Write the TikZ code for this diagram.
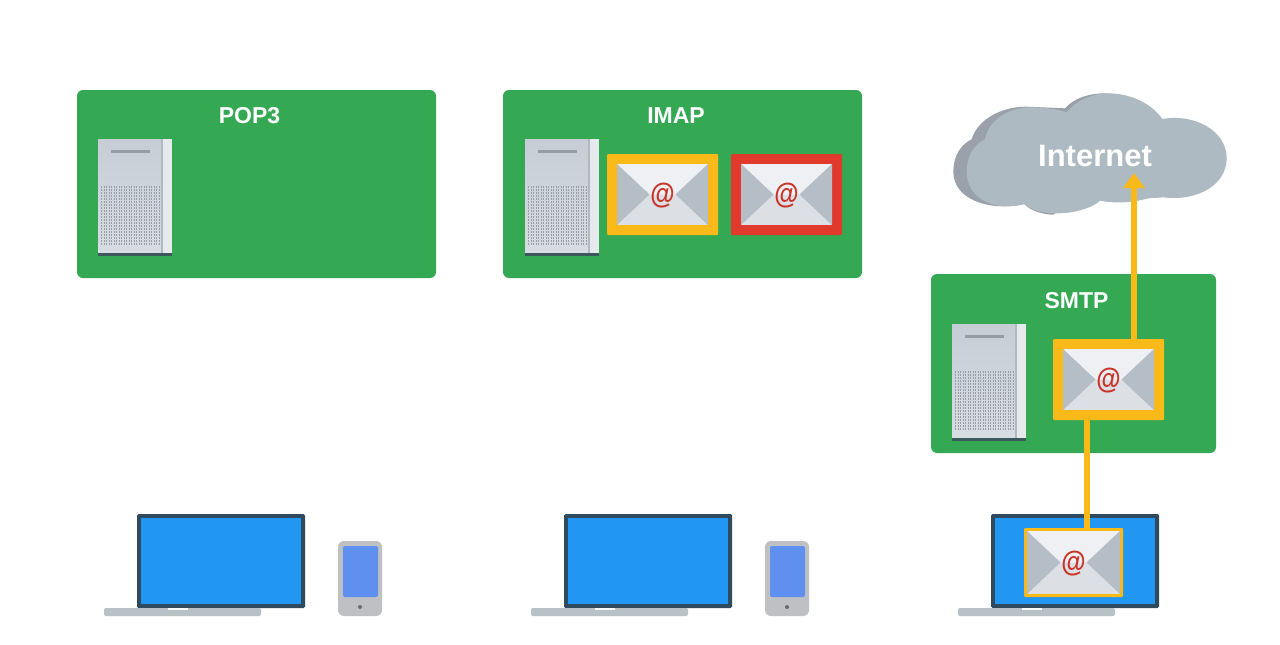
\documentclass[tikz,border=0pt]{standalone}
\usepackage{fontspec}
\setmainfont{Liberation Sans}
\usetikzlibrary{arrows.meta}
\definecolor{panelgreen}{HTML}{34A853}
\definecolor{mailyellow}{HTML}{F9B918}
\definecolor{mailred}{HTML}{E1392B}
\definecolor{screenblue}{HTML}{2196F3}
\definecolor{bezel}{HTML}{2F4A5C}
\definecolor{basegrey}{HTML}{B7C1C6}
\definecolor{phonegrey}{HTML}{BEC0C4}
\definecolor{phoneblue}{HTML}{5F90F0}
\definecolor{cloudfront}{HTML}{AEBAC2}
\definecolor{cloudback}{HTML}{9AA1AB}
\definecolor{envlight}{HTML}{EEF0F4}
\definecolor{envmid}{HTML}{DCE0E5}
\definecolor{envside}{HTML}{B5BEC6}
\definecolor{srvtop}{HTML}{C6CDD5}
\definecolor{srvbot}{HTML}{D8DDE3}
\definecolor{srvedge}{HTML}{B0B8C2}
\definecolor{srvside}{HTML}{E6EAED}
\definecolor{srvfoot}{HTML}{3C585C}
\definecolor{srvslot}{HTML}{969CA6}
\definecolor{srvdots}{HTML}{959DA6}
\tikzset{
  panel/.style={fill=panelgreen,rounded corners=6pt,inner sep=0pt,outer sep=0pt,anchor=north west},
  title/.style={text=white,font=\bfseries\fontsize{23}{23}\selectfont,inner sep=0pt},
  flatbox/.style={inner sep=0pt,outer sep=0pt,anchor=north west},
  wire/.style={draw=mailyellow,line width=6pt},
  at sign/.style={text=mailred!90!black,font=\bfseries\fontsize{25}{25}\selectfont,inner sep=0pt}
}
\newcommand{\srvbox}[3]{%
  \begin{scope}[shift={(#2,#3)}]
    \node[flatbox,minimum width=65pt,minimum height=114pt,top color=srvtop,bottom color=srvbot] (#1) at (0,0) {};
    \fill[srvedge] (63,0) rectangle (65,114);
    \fill[srvside] (65,0) rectangle (74,114);
    \fill[srvfoot] (0,114) rectangle (74,117);
    \fill[srvslot] (13,11) rectangle (52,14);
    \foreach \r in {0,...,19}
      \draw[srvdots,line width=1.1pt,dash pattern=on 1.2pt off 1.3pt]
        (3,{48+\r*3}) -- (62,{48+\r*3});
  \end{scope}}
\newcommand{\envbox}[6]{% name, x, y, w, h, colour; frame thickness in \envt
  \begin{scope}[shift={(#2,#3)}]
    \node[flatbox,fill=#6,rounded corners=1pt,minimum width=#4 pt,minimum height=#5 pt] (#1) at (0,0) {};
    \fill[envmid] (\envt,\envt) rectangle ({#4-\envt},{#5-\envt});
    \fill[envlight] (\envt,\envt) -- ({#4-\envt},\envt) -- ({#4/2+13},{#5/2}) -- ({#4/2-13},{#5/2}) -- cycle;
    \fill[envside] (\envt,\envt) -- ({#4/2-13},{#5/2}) -- (\envt,{#5-\envt}) -- cycle;
    \fill[envside] ({#4-\envt},\envt) -- ({#4/2+13},{#5/2}) -- ({#4-\envt},{#5-\envt}) -- cycle;
    \node[at sign] (#1at) at ({#4/2},{#5/2+1}) {\scalebox{1}[1.15]{@}};
  \end{scope}}
\newcommand{\lapbox}[2]{%
  \begin{scope}[shift={(#2,514)}]
    \node[flatbox,fill=bezel,rounded corners=1.5pt,minimum width=168pt,minimum height=94pt] (#1) at (0,0) {};
    \fill[screenblue] (4,4) rectangle (164,90);
    \fill[basegrey,rounded corners=2pt] (-33,94) rectangle (124,102);
    \fill[white!90!basegrey] (31,94) rectangle (51,96);
  \end{scope}}
\newcommand{\phnbox}[2]{%
  \begin{scope}[shift={(#2,541)}]
    \node[flatbox,fill=phonegrey,rounded corners=6pt,minimum width=44pt,minimum height=75pt] (#1) at (0,0) {};
    \fill[phoneblue,rounded corners=2pt] (5,5) rectangle (40,56);
    \fill[black!45!phonegrey] (22,66) circle (2pt);
  \end{scope}}
\begin{document}
\begin{tikzpicture}[x=1pt,y=-1pt]
\useasboundingbox[fill=white] (0,0) rectangle (1280,645);
% panels
\node[panel,minimum width=359pt,minimum height=188pt] (pop) at (77,90) {};
\node[panel,minimum width=359pt,minimum height=188pt] (imap) at (503,90) {};
\node[panel,minimum width=285pt,minimum height=179pt] (smtp) at (931,274) {};
\node[title] (poptitle) at (249.5,116) {POP3};
\node[title] (imaptitle) at (676,116) {IMAP};
\node[title] (smtptitle) at (1076.5,301) {SMTP};
% servers
\srvbox{srvpop}{98}{139}
\srvbox{srvimap}{525}{139}
\srvbox{srvsmtp}{952}{324}
% cloud
\begin{scope}[shift={(930,80)},scale=1/3]
  \fill[cloudback] (125,178) .. controls (140,125) and (205,80) .. (290,80)
     -- (405,85) .. controls (430,55) and (480,38) .. (535,40)
     -- (500,300) -- (370,404) .. controls (340,404) and (300,392) .. (283,372)
     .. controls (180,395) and (70,360) .. (70,275) .. controls (70,230) and (90,195) .. (125,178) -- cycle;
  \fill[cloudfront] (165,178) .. controls (175,120) and (240,80) .. (305,82)
     .. controls (345,82) and (385,88) .. (410,97)
     .. controls (440,60) and (490,40) .. (535,40)
     .. controls (600,40) and (665,70) .. (697,117)
     .. controls (790,100) and (890,150) .. (890,235)
     .. controls (890,310) and (810,365) .. (700,352)
     -- (655,355) .. controls (600,370) and (550,370) .. (510,362)
     .. controls (470,400) and (340,420) .. (283,372)
     .. controls (200,395) and (110,360) .. (110,275)
     .. controls (110,230) and (130,195) .. (165,178) -- cycle;
\end{scope}
\node[text=white,font=\bfseries\fontsize{31}{31}\selectfont,inner sep=0pt] (internet) at (1095,156) {Internet};
% envelopes
\def\envt{10}
\envbox{envyellow}{607}{154}{111}{81}{mailyellow}
\envbox{envred}{731}{154}{111}{81}{mailred}
\envbox{envsmtp}{1053}{339}{111}{81}{mailyellow}
% laptops and phones
\lapbox{lapa}{137}
\lapbox{lapb}{564}
\lapbox{lapc}{991}
\phnbox{phonea}{338}
\phnbox{phoneb}{765}
\def\envt{3}
\envbox{envlap}{1024}{528}{99}{69}{mailyellow}
% connectors
\coordinate (tip) at (1134,173);
\coordinate (lowx) at (1087,470);
\draw[wire,-{Triangle[length=15pt,width=21pt]}] (tip |- envsmtp.north) -- (tip);
\draw[wire] (lowx |- envlap.north) -- (lowx |- envsmtp.south);
\end{tikzpicture}
\end{document}
